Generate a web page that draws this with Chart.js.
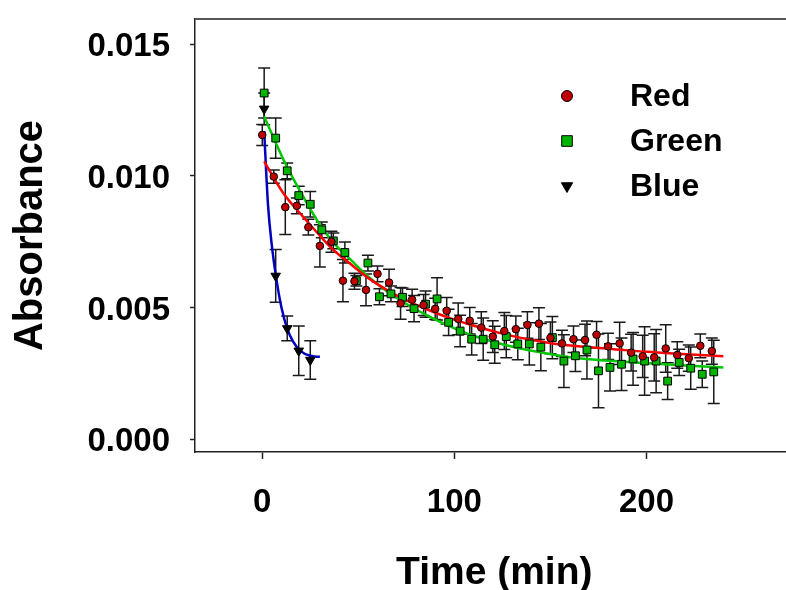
<!DOCTYPE html>
<html>
<head>
<meta charset="utf-8">
<script src="https://cdn.jsdelivr.net/npm/chart.js@4.4.1/dist/chart.umd.min.js"></script>
<style>
  html, body { margin: 0; padding: 0; background: #fff; overflow: hidden; }
  /* the frame runs past the right edge of the picture, so the canvas is a bit wider than the view */
  #wrap { width: 786px; height: 590px; overflow: hidden; }
</style>
</head>
<body>
<div id="wrap"><canvas id="chart" width="800" height="590"></canvas></div>
<script>
// Measured points (time in min, absorbance) with their error bars
const redT = [0, 6, 12, 18, 24, 30, 36, 42, 48, 54, 60, 66, 72, 78, 84, 90, 96, 102, 108, 114,
              120, 126, 132, 138, 144, 150, 156, 162, 168, 174, 180, 186, 192, 198, 204, 210, 216, 222, 228, 234];
const redY = [0.01155, 0.00997, 0.00881, 0.00886, 0.00805, 0.00734, 0.00750, 0.00602, 0.00600, 0.00567,
              0.00628, 0.00595, 0.00516, 0.00530, 0.00510, 0.00495, 0.00488, 0.00457, 0.00450, 0.00424,
              0.00390, 0.00411, 0.00418, 0.00434, 0.00439, 0.00385, 0.00364, 0.00380, 0.00377, 0.00397,
              0.00353, 0.00364, 0.00329, 0.00315, 0.00311, 0.00345, 0.00320, 0.00308, 0.00355, 0.00335];
const redErr = [0.0004, 0.00025, 0.00104, 0.0003, 0.0003, 0.0008, 0.0004, 0.0008, 0.0003, 0.0006,
                0.0003, 0.0005, 0.0006, 0.0004, 0.0004, 0.0004, 0.0005, 0.0006, 0.0005, 0.0006,
                0.0006, 0.0007, 0.0005, 0.0005, 0.0006, 0.0006, 0.0005, 0.0005, 0.0006, 0.0005,
                0.0005, 0.0008, 0.0007, 0.0008, 0.0009, 0.0009, 0.0005, 0.0005, 0.00045, 0.0005];

const greenT = [1, 7, 13, 19, 25, 31, 37, 43, 49, 55, 61, 67, 73, 79, 85, 91, 97, 103, 109, 115,
                121, 127, 133, 139, 145, 151, 157, 163, 169, 175, 181, 187, 193, 199, 205, 211, 217, 223, 229, 235];
const greenY = [0.01314, 0.01143, 0.01019, 0.00925, 0.00892, 0.00795, 0.00753, 0.00709, 0.00602, 0.00669,
                0.00541, 0.00552, 0.00539, 0.00496, 0.00513, 0.00533, 0.00444, 0.00411, 0.00380, 0.00380,
                0.00359, 0.00390, 0.00362, 0.00362, 0.00350, 0.00386, 0.00297, 0.00317, 0.00339, 0.00260,
                0.00273, 0.00285, 0.00305, 0.00297, 0.00297, 0.00221, 0.00292, 0.00270, 0.00247, 0.00256];
const greenErr = [0.00095, 0.00076, 0.0003, 0.00035, 0.00048, 0.0003, 0.0003, 0.0004, 0.0002, 0.0003,
                  0.0003, 0.0003, 0.00035, 0.0005, 0.0005, 0.0008, 0.0005, 0.0006, 0.0006, 0.0008,
                  0.0007, 0.0008, 0.0006, 0.0008, 0.0009, 0.0008, 0.0010, 0.0006, 0.0011, 0.0014,
                  0.0009, 0.0010, 0.0010, 0.0013, 0.0012, 0.0007, 0.0005, 0.0008, 0.0005, 0.0012];

const blueT = [1, 7, 13, 19, 25];
const blueY = [0.01254, 0.00620, 0.00421, 0.00336, 0.00301];
const blueErr = [0.0006, 0.0010, 0.00047, 0.00094, 0.00073];

// Fitted curves
const redFitT = [1, 11, 20, 28.5, 37, 46, 56, 67, 77, 87.5, 98, 108, 124, 134, 145, 155, 166, 183, 200, 218, 240];
const redFitY = [0.01055, 0.00934, 0.00855, 0.00785, 0.00719, 0.00665, 0.00608, 0.00558, 0.00521, 0.00488, 0.00459,
                 0.00436, 0.00403, 0.00386, 0.00371, 0.00360, 0.00352, 0.00342, 0.00332, 0.00324, 0.00315];
const greenFitT = [1, 11, 20, 28.5, 37, 46, 56, 67, 77, 87.5, 98, 108, 124, 134, 145, 155, 166, 183, 200, 218, 240];
const greenFitY = [0.01225, 0.01062, 0.00938, 0.00832, 0.00747, 0.00682, 0.00612, 0.00551, 0.00505, 0.00464, 0.00428,
                   0.00398, 0.00363, 0.00346, 0.00330, 0.00317, 0.00307, 0.00297, 0.00289, 0.00281, 0.00273];
const blueFitT = [1, 3, 5, 7, 10, 13, 16, 20, 25, 30];
const blueFitY = [0.0117, 0.0089, 0.00735, 0.00625, 0.0050, 0.0042, 0.00372, 0.00335, 0.00317, 0.00313];

const xTicks = [0, 100, 200];
const yTicks = [0, 0.005, 0.010, 0.015];
const legendLabels = ['Red', 'Green', 'Blue'];

const FONT = "'Liberation Sans', Arial, sans-serif";

function pairs(xs, ys) {
    return xs.map((x, i) => ({x: x, y: ys[i]}));
}

// Vertical error bars with caps, drawn under the markers
const errorBars = {
    id: 'errorBars',
    beforeDatasetsDraw(chart) {
        const {ctx, scales: {x, y}} = chart;
        ctx.save();
        ctx.strokeStyle = '#1a1a1a';
        ctx.lineWidth = 1.5;
        chart.data.datasets.forEach(ds => {
            if (!ds.errors) return;
            ds.data.forEach((p, j) => {
                const e = ds.errors[j];
                const px = x.getPixelForValue(p.x);
                const top = y.getPixelForValue(p.y + e);
                const bot = y.getPixelForValue(p.y - e);
                ctx.beginPath();
                ctx.moveTo(px, top); ctx.lineTo(px, bot);
                ctx.moveTo(px - 6, top); ctx.lineTo(px + 6, top);
                ctx.moveTo(px - 6, bot); ctx.lineTo(px + 6, bot);
                ctx.stroke();
            });
        });
        ctx.restore();
    }
};

// Top frame line and the symbol legend
const frameAndLegend = {
    id: 'frameAndLegend',
    afterDraw(chart) {
        const {ctx, chartArea} = chart;
        ctx.save();
        ctx.strokeStyle = '#555';
        ctx.lineWidth = 2;
        ctx.beginPath();
        ctx.moveTo(chartArea.left, chartArea.top);
        ctx.lineTo(chart.width, chartArea.top);
        ctx.stroke();

        const marks = [
            {pointStyle: 'circle', radius: 5.5, rotation: 0, fill: '#c00000'},
            {pointStyle: 'rect', radius: 7.5, rotation: 0, fill: '#00b400'},
            {pointStyle: 'triangle', radius: 6.5, rotation: 180, fill: '#000'}
        ];
        const rowY = [96, 141, 186];
        ctx.font = 'bold 32px ' + FONT;
        ctx.textBaseline = 'middle';
        ctx.textAlign = 'left';
        legendLabels.forEach((label, i) => {
            const m = marks[i];
            ctx.fillStyle = m.fill;
            ctx.strokeStyle = '#000';
            ctx.lineWidth = 1;
            Chart.helpers.drawPoint(ctx, {pointStyle: m.pointStyle, radius: m.radius, rotation: m.rotation, borderWidth: 1}, 567, rowY[i]);
            ctx.fillStyle = '#000';
            ctx.fillText(label, 630, rowY[i] + 1);
        });
        ctx.restore();
    }
};

const markerBase = {showLine: false, borderWidth: 1, borderColor: '#000', order: 0};
const fitBase = {pointRadius: 0, borderWidth: 2.5, cubicInterpolationMode: 'monotone', fill: false, order: 1};

new Chart(document.getElementById('chart'), {
    type: 'line',
    data: {
        datasets: [
            Object.assign({}, markerBase, {label: 'Red', data: pairs(redT, redY), errors: redErr,
                pointStyle: 'circle', pointRadius: 3.8, pointBackgroundColor: '#c00000', pointBorderColor: '#000', pointBorderWidth: 1}),
            Object.assign({}, markerBase, {label: 'Green', data: pairs(greenT, greenY), errors: greenErr,
                pointStyle: 'rect', pointRadius: 5.5, pointBackgroundColor: '#00b400', pointBorderColor: '#000', pointBorderWidth: 1}),
            Object.assign({}, markerBase, {label: 'Blue', data: pairs(blueT, blueY), errors: blueErr,
                pointStyle: 'triangle', pointRotation: 180, pointRadius: 5.5, pointBackgroundColor: '#000', pointBorderColor: '#000', pointBorderWidth: 1}),
            Object.assign({}, fitBase, {label: 'Red fit', data: pairs(redFitT, redFitY), borderColor: '#ff0000'}),
            Object.assign({}, fitBase, {label: 'Green fit', data: pairs(greenFitT, greenFitY), borderColor: '#00c800'}),
            Object.assign({}, fitBase, {label: 'Blue fit', data: pairs(blueFitT, blueFitY), borderColor: '#0000c0'})
        ]
    },
    options: {
        responsive: false,
        devicePixelRatio: 1,
        animation: false,
        layout: {padding: {top: 19, right: 0, bottom: 0, left: 0}},
        plugins: {
            legend: {display: false},
            tooltip: {enabled: false}
        },
        scales: {
            x: {
                type: 'linear',
                min: -35,
                max: 276.5,
                afterBuildTicks: s => { s.ticks = xTicks.map(v => ({value: v})); },
                afterFit: s => { s.height = 138; s.paddingLeft = 0; s.paddingRight = 0; },
                grid: {drawOnChartArea: false, tickLength: 7, tickColor: '#222', tickWidth: 1.5},
                border: {display: true, color: '#222', width: 1.5},
                ticks: {color: '#000', padding: 24, font: {family: FONT, size: 33, weight: 'bold'}, maxRotation: 0},
                title: {display: true, text: 'Time (min)', color: '#000', padding: {top: 0, bottom: -3},
                        font: {family: FONT, size: 39, weight: 'bold', lineHeight: 1}}
            },
            y: {
                type: 'linear',
                min: -0.00048,
                max: 0.01595,
                afterBuildTicks: s => { s.ticks = yTicks.map(v => ({value: v})); },
                afterFit: s => { s.width = 195; s.paddingTop = 0; s.paddingBottom = 0; },
                grid: {drawOnChartArea: false, tickLength: 5, tickColor: '#222', tickWidth: 1.5},
                border: {display: true, color: '#222', width: 1.5},
                ticks: {color: '#000', padding: 20, labelOffset: 3, font: {family: FONT, size: 33, weight: 'bold'},
                        callback: v => v.toFixed(3)},
                title: {display: true, text: 'Absorbance', color: '#000', padding: {top: 11, bottom: 0},
                        font: {family: FONT, size: 40, weight: 'bold', lineHeight: 1}}
            }
        }
    },
    plugins: [errorBars, frameAndLegend]
});
</script>
</body>
</html>
